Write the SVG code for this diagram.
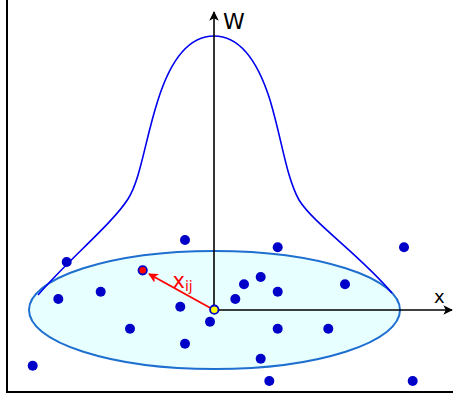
<svg xmlns="http://www.w3.org/2000/svg" width="453" height="398" viewBox="0 0 453 398">
  <style>
    .dot { fill: #0000c8; }
    .axis { stroke: #000; stroke-width: 1.6; fill: none; }
    .lbl { font-family: "DejaVu Sans", sans-serif; }
  </style>
  <defs>
    <marker id="ah" viewBox="0 0 10 10" refX="9" refY="5" markerWidth="6" markerHeight="6" orient="auto" markerUnits="strokeWidth">
      <path d="M0,0 L10,5 L0,10 L2.5,5 Z" fill="#000"/>
    </marker>
    <marker id="ahr" viewBox="0 0 10 10" refX="9" refY="5" markerWidth="5.5" markerHeight="5.5" orient="auto" markerUnits="strokeWidth">
      <path d="M0,0 L10,5 L0,10 L2.5,5 Z" fill="#ff0000"/>
    </marker>
  </defs>
  <rect width="453" height="398" fill="#ffffff"/>
  <g id="frame">
    <path d="M7,0 V392 H453" fill="none" stroke="#000" stroke-width="2"/>
  </g>
  <g id="ellipse">
    <ellipse cx="214.5" cy="310" rx="185.5" ry="59" fill="#e8ffff" stroke="#1e6fd0" stroke-width="2"/>
  </g>
  <g id="curve">
    <path d="M38,295 C70,258 112,224 128,199 C141,178 145,140 158,100 C170,62 188,36 214,36 C240,36 258,62 270,100 C282,140 286,176 299,200 C314,224 360,255 392,293" fill="none" stroke="#0000ee" stroke-width="1.6"/>
  </g>
  <g id="connectors">
    <line class="axis" x1="214" y1="310" x2="214" y2="12" marker-end="url(#ah)"/>
    <line class="axis" x1="214" y1="310" x2="452" y2="310" marker-end="url(#ah)"/>
    <line x1="214" y1="310" x2="149" y2="274" stroke="#ff0000" stroke-width="1.8" marker-end="url(#ahr)"/>
  </g>
  <g id="points">
    <circle class="dot" cx="185" cy="240" r="5"/>
    <circle class="dot" cx="277.7" cy="247.3" r="5"/>
    <circle class="dot" cx="404" cy="247.3" r="5"/>
    <circle class="dot" cx="66.7" cy="262" r="5"/>
    <circle class="dot" cx="260.7" cy="277" r="5"/>
    <circle class="dot" cx="244" cy="284.3" r="5"/>
    <circle class="dot" cx="277.7" cy="291.7" r="5"/>
    <circle class="dot" cx="345" cy="284.3" r="5"/>
    <circle class="dot" cx="100.7" cy="291.7" r="5"/>
    <circle class="dot" cx="58.3" cy="299" r="5"/>
    <circle class="dot" cx="235.3" cy="299" r="5"/>
    <circle class="dot" cx="180.3" cy="306.7" r="5"/>
    <circle class="dot" cx="210" cy="321.7" r="5"/>
    <circle class="dot" cx="130" cy="328.7" r="5"/>
    <circle class="dot" cx="277.7" cy="328.7" r="5"/>
    <circle class="dot" cx="328.3" cy="328.7" r="5"/>
    <circle class="dot" cx="185" cy="343.7" r="5"/>
    <circle class="dot" cx="260.7" cy="358.7" r="5"/>
    <circle class="dot" cx="32.7" cy="365.7" r="5"/>
    <circle class="dot" cx="269.3" cy="381" r="5"/>
    <circle class="dot" cx="412.7" cy="381" r="5"/>
  </g>
  <g id="point-j">
    <circle cx="142.7" cy="270.3" r="4.2" fill="#ff0000" stroke="#0000c8" stroke-width="1.8"/>
  </g>
  <g id="point-i">
    <circle cx="214.3" cy="309.7" r="4.2" fill="#ffff00" stroke="#0000c8" stroke-width="1.8"/>
  </g>
  <g id="labels">
    <text class="lbl" x="223" y="28.5" font-size="22" fill="#000">W</text>
    <text class="lbl" x="434" y="303" font-size="18" fill="#000">x</text>
    <text class="lbl" x="172.5" y="288" font-size="21" fill="#ff0000">x<tspan font-size="14" dy="2.5">ij</tspan></text>
  </g>
</svg>
